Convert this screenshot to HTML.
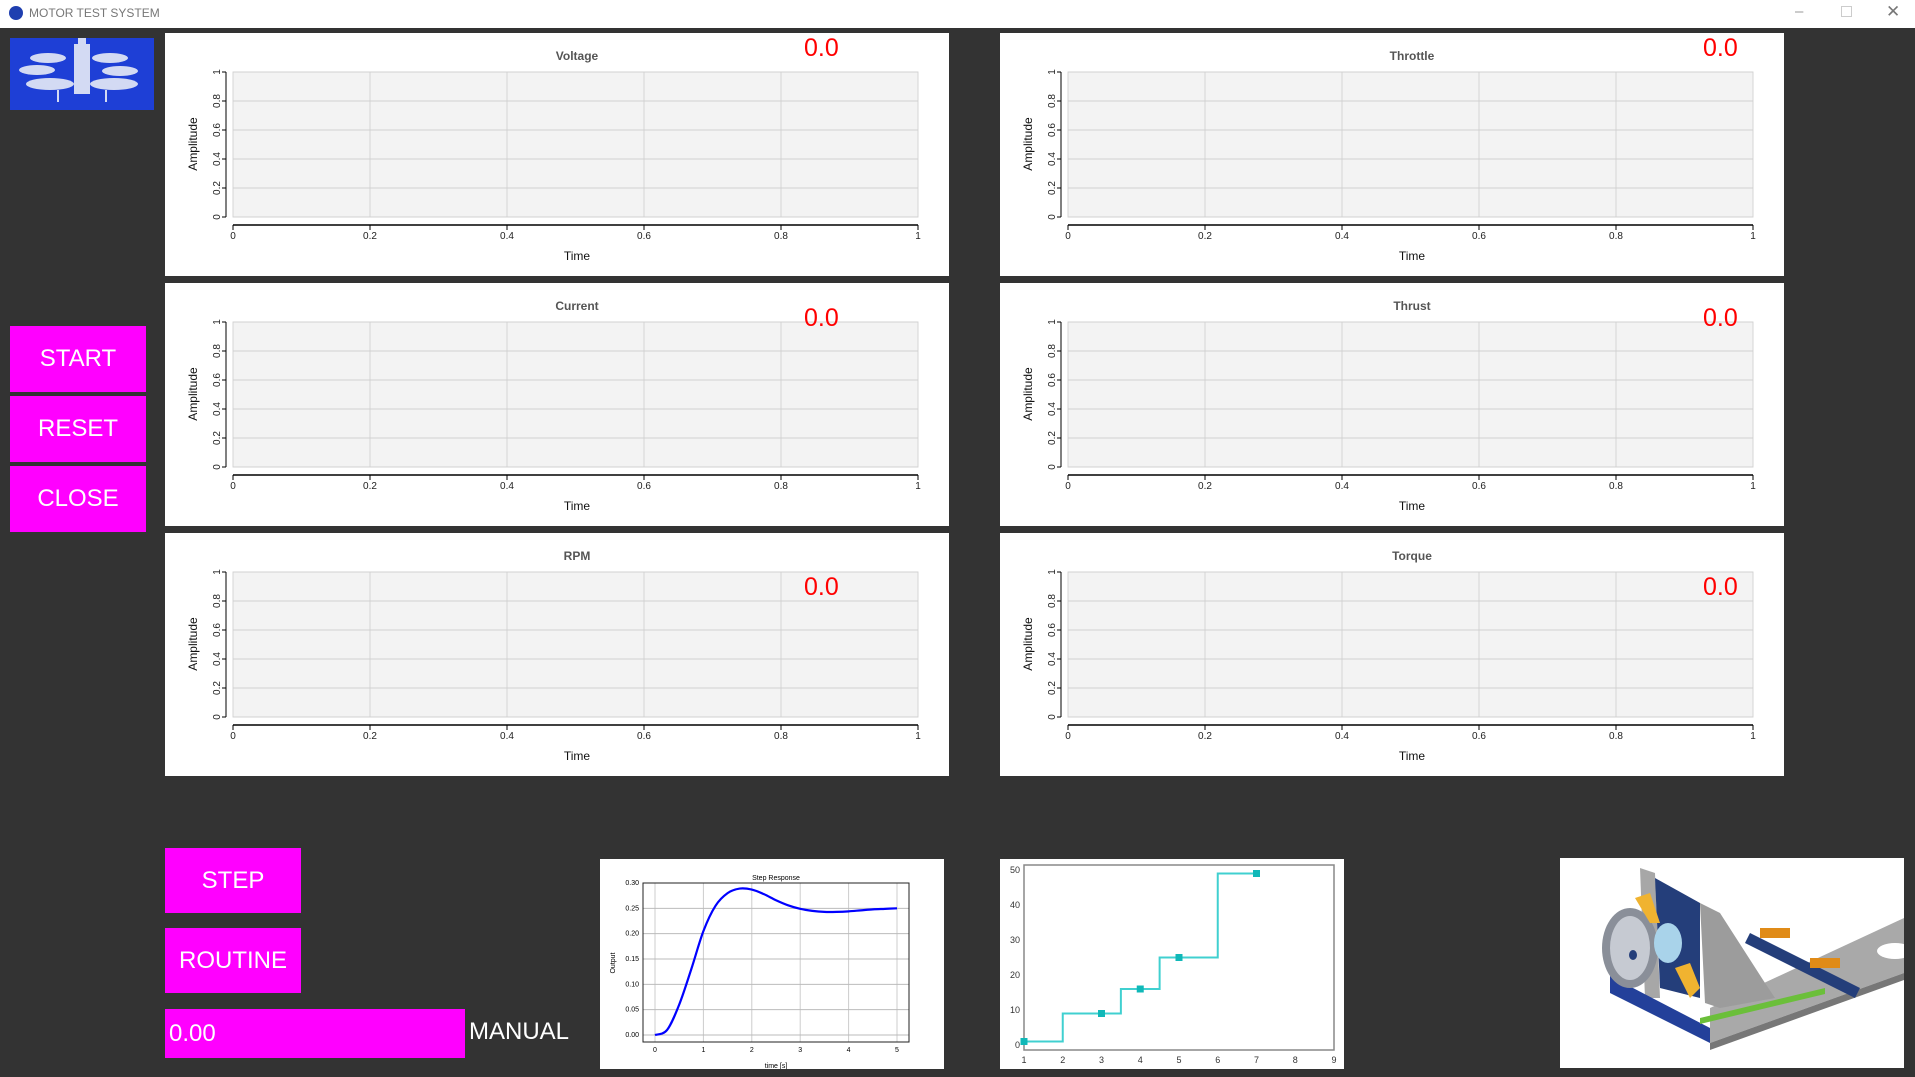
<!DOCTYPE html>
<html><head><meta charset="utf-8">
<style>
*{margin:0;padding:0;box-sizing:border-box}
body{width:1915px;height:1077px;background:#333333;position:relative;overflow:hidden;font-family:"Liberation Sans",sans-serif}
.abs{position:absolute}
.btn{position:absolute;background:#ff00ff;color:#fff;font-size:24px;display:flex;align-items:center;justify-content:center}
.panel{position:absolute;background:#fff}
.val{position:absolute;color:#ff0000;font-size:25px}
</style></head><body>
<div class="abs" style="left:0;top:0;width:1915px;height:28px;background:#fff">
  <div class="abs" style="left:9px;top:6px;width:14px;height:14px;border-radius:50%;background:#1f3fb0"></div>
  <div class="abs" style="left:29px;top:6px;font-size:12px;color:#777">MOTOR TEST SYSTEM</div>
  <div class="abs" style="left:1795px;top:3px;font-size:15px;color:#999">&#8211;</div>
  <div class="abs" style="left:1841px;top:6px;width:11px;height:11px;border:1px solid #ccc"></div>
  <div class="abs" style="left:1886px;top:2px;font-size:17px;color:#777">&#10005;</div>
</div>
<div class="abs" style="left:10px;top:38px;width:144px;height:72px;background:#1e3fd6">
<svg width="144" height="72" viewBox="0 0 144 72">
<g fill="#dde3f5" opacity="0.95">
<ellipse cx="38" cy="20" rx="18" ry="5"/><ellipse cx="100" cy="20" rx="18" ry="5"/>
<ellipse cx="27" cy="32" rx="18" ry="5"/><ellipse cx="110" cy="33" rx="18" ry="5"/>
<ellipse cx="40" cy="46" rx="24" ry="6"/><ellipse cx="104" cy="46" rx="24" ry="6"/>
<rect x="64" y="6" width="16" height="50"/><rect x="68" y="0" width="8" height="6"/>
<rect x="47" y="52" width="2" height="12"/><rect x="95" y="52" width="2" height="12"/>
</g></svg></div>

<div class="btn" style="left:10px;top:326px;width:136px;height:66px">START</div>
<div class="btn" style="left:10px;top:396px;width:136px;height:66px">RESET</div>
<div class="btn" style="left:10px;top:466px;width:136px;height:66px">CLOSE</div>

<div id="panels"></div>

<div class="btn" style="left:165px;top:848px;width:136px;height:65px">STEP</div>
<div class="btn" style="left:165px;top:928px;width:136px;height:65px">ROUTINE</div>
<div class="btn" style="left:165px;top:1009px;width:300px;height:49px;justify-content:flex-start;padding-left:4px">0.00</div>
<div class="abs" style="left:469px;top:1018px;color:#fff;font-size:24px">MANUAL</div>

<svg class="abs" style="left:600px;top:859px" width="344" height="210" id="sr"></svg>
<svg class="abs" style="left:1000px;top:859px" width="344" height="210" id="rt"></svg>

<svg class="abs" style="left:1560px;top:858px" width="344" height="210" viewBox="0 0 344 210">
<rect width="344" height="210" fill="#fff"/>
<polygon points="150,150 344,60 344,115 150,185" fill="#a9a9a9"/>
<polygon points="150,185 344,115 344,122 150,192" fill="#777"/>
<ellipse cx="335" cy="93" rx="18" ry="8" fill="#fff"/>
<polygon points="80,10 95,15 100,140 85,140" fill="#a7a7a7"/>
<polygon points="95,20 140,45 140,140 100,130" fill="#243e7a"/>
<polygon points="140,45 160,55 205,125 215,140 160,150 145,145" fill="#9c9c9c"/>
<polygon points="190,75 300,130 295,140 185,85" fill="#243e7a"/>
<rect x="200" y="70" width="30" height="10" fill="#e08b18"/>
<rect x="250" y="100" width="30" height="10" fill="#e08b18"/>
<polygon points="50,118 150,170 150,185 50,135" fill="#23409a"/>
<polygon points="140,160 265,130 265,136 140,166" fill="#6bbf3a"/>
<ellipse cx="70" cy="90" rx="28" ry="40" fill="#8a8f99"/>
<ellipse cx="70" cy="90" rx="20" ry="32" fill="#c6cad2"/>
<ellipse cx="73" cy="97" rx="4" ry="5" fill="#243e7a"/>
<ellipse cx="108" cy="85" rx="14" ry="20" fill="#a9d3ea"/>
<polygon points="75,40 90,35 100,65 90,65" fill="#f0b330"/>
<polygon points="115,110 130,105 140,130 130,140" fill="#f0b330"/>
</svg>

<script>
// ---- panel definitions ----
const panelTitles = ["Voltage","Throttle","Current","Thrust","RPM","Torque"];
const panelValues = ["0.0","0.0","0.0","0.0","0.0","0.0"];
const xTicks = [0,0.2,0.4,0.6,0.8,1];
const yTicks = [0,0.2,0.4,0.6,0.8,1];
const xTickLabels = ["0","0.2","0.4","0.6","0.8","1"];
const yTickLabels = ["0","0.2","0.4","0.6","0.8","1"];

// ---- step response data ----
const srTime = [0,0.25,0.5,0.75,1,1.25,1.5,1.75,2,2.25,2.5,2.75,3,3.25,3.5,3.75,4,4.25,4.5,4.75,5];
const srOutput = [0,0.01,0.06,0.13,0.205,0.255,0.28,0.289,0.287,0.278,0.266,0.256,0.249,0.245,0.243,0.243,0.244,0.246,0.248,0.249,0.25];
const srXTicks = [0,1,2,3,4,5];
const srYTicks = [0,0.05,0.10,0.15,0.20,0.25,0.30];
const srYTickLabels = ["0.00","0.05","0.10","0.15","0.20","0.25","0.30"];

// ---- routine step data ----
const rtStepX = [1,2,3.5,4.5,6,7];
const rtStepY = [1,9,16,25,49,49];
const rtMarkX = [1,3,4,5,7];
const rtMarkY = [1,9,16,25,49];
const rtXTicks = [1,2,3,4,5,6,7,8,9];
const rtYTicks = [0,10,20,30,40,50];

const NS="http://www.w3.org/2000/svg";
function el(tag,attrs,parent){const e=document.createElementNS(NS,tag);for(const k in attrs)e.setAttribute(k,attrs[k]);if(parent)parent.appendChild(e);return e;}

const container=document.getElementById('panels');
const pos=[[165,33],[1000,33],[165,283],[1000,283],[165,533],[1000,533]];
const valTop=[1,1,21,21,40,40];
const valLeft=[639,703,639,703,639,703];
panelTitles.forEach((t,i)=>{
  const p=document.createElement('div');
  p.className='panel';
  
  
  p.style.left=pos[i][0]+'px';p.style.top=pos[i][1]+'px';p.style.width='784px';p.style.height='243px';
  container.appendChild(p);
  const svg=el('svg',{width:784,height:243},p);
  
  
  const L=68,R=753,T=39,B=184;
  const sx=v=>L+(R-L)*v, sy=v=>B-(B-T)*v;
  el('rect',{x:L,y:T,width:R-L,height:B-T,fill:'#f3f3f3',stroke:'#d6d6d6'},svg);
  xTicks.forEach((v,j)=>{
    el('line',{x1:sx(v),x2:sx(v),y1:T,y2:B,stroke:'#d4d4d4'},svg);
    el('line',{x1:sx(v),x2:sx(v),y1:192,y2:197,stroke:'#000'},svg);
    const tx=el('text',{x:sx(v),y:206,'font-size':10,'text-anchor':'middle',fill:'#222'},svg);tx.textContent=xTickLabels[j];
  });
  el('line',{x1:L,x2:R,y1:192,y2:192,stroke:'#000','stroke-width':1.5},svg);
  el('line',{x1:61,x2:61,y1:T,y2:B,stroke:'#000'},svg);
  yTicks.forEach((v,j)=>{
    el('line',{x1:L,x2:R,y1:sy(v),y2:sy(v),stroke:'#d0d0d0'},svg);
    el('line',{x1:57,x2:61,y1:sy(v),y2:sy(v),stroke:'#000'},svg);
    const tx=el('text',{x:55,y:sy(v),'font-size':10,'text-anchor':'middle',fill:'#222',transform:`rotate(-90 55 ${sy(v)})`},svg);tx.textContent=yTickLabels[j];
  });
  const tt=el('text',{x:412,y:27,'font-size':12,'font-weight':'bold','text-anchor':'middle',fill:'#555'},svg);tt.textContent=t;
  const xl=el('text',{x:412,y:227,'font-size':12,'text-anchor':'middle',fill:'#111'},svg);xl.textContent='Time';
  const yl=el('text',{x:32,y:111,'font-size':12,'text-anchor':'middle',fill:'#111',transform:'rotate(-90 32 111)'},svg);yl.textContent='Amplitude';
  const v=document.createElement('div');v.className='val';
  
  
  v.style.left=valLeft[i]+'px';v.style.top=valTop[i]+'px';v.textContent=panelValues[i];
  p.appendChild(v);
});

// step response chart
(function(){
  const s=document.getElementById('sr');
  el('rect',{width:344,height:210,fill:'#fff'},s);
  const L=43,R=309,T=24,B=183,x0=55,x1=297,y0=176,y1=24;
  const sx=v=>x0+(x1-x0)*v/5, sy=v=>y0-(y0-y1)*v/0.3;
  srXTicks.forEach(v=>{el('line',{x1:sx(v),x2:sx(v),y1:T,y2:B,stroke:'#ccc'},s);
    const tx=el('text',{x:sx(v),y:193,'font-size':7,'text-anchor':'middle'},s);tx.textContent=v;});
  srYTicks.forEach((v,j)=>{el('line',{x1:L,x2:R,y1:sy(v),y2:sy(v),stroke:'#bbb'},s);
    const tx=el('text',{x:L-4,y:sy(v)+2,'font-size':7,'text-anchor':'end'},s);tx.textContent=srYTickLabels[j];});
  el('rect',{x:L,y:T,width:R-L,height:B-T,fill:'none',stroke:'#222'},s);
  const pts=srTime.map((t,i)=>[sx(t),sy(srOutput[i])]);
  let d='M'+pts[0][0]+','+pts[0][1];
  for(let i=1;i<pts.length;i++){const p0=pts[i-1],p1=pts[i],pm=pts[i-2]||p0,p2=pts[i+1]||p1;
    d+=` C${p0[0]+(p1[0]-pm[0])/6},${p0[1]+(p1[1]-pm[1])/6} ${p1[0]-(p2[0]-p0[0])/6},${p1[1]-(p2[1]-p0[1])/6} ${p1[0]},${p1[1]}`;}
  const ln=el('path',{d,fill:'none',stroke:'#0000ff','stroke-width':2.2},s);
  
  
  const t=el('text',{x:176,y:21,'font-size':7,'text-anchor':'middle'},s);t.textContent='Step Response';
  const xl=el('text',{x:176,y:209,'font-size':7,'text-anchor':'middle'},s);xl.textContent='time [s]';
  const yl=el('text',{x:15,y:104,'font-size':7,'text-anchor':'middle',transform:'rotate(-90 15 104)'},s);yl.textContent='Output';
})();

// routine chart
(function(){
  const s=document.getElementById('rt');
  el('rect',{width:344,height:210,fill:'#fff'},s);
  const L=24,R=334,T=6,B=191,yb=186,yt=11;
  const sx=v=>L+(R-L)*(v-1)/8, sy=v=>yb-(yb-yt)*v/50;
  el('rect',{x:L,y:T,width:R-L,height:B-T,fill:'none',stroke:'#888','stroke-width':1.5},s);
  rtXTicks.forEach(v=>{const tx=el('text',{x:sx(v),y:204,'font-size':9,'text-anchor':'middle',fill:'#333'},s);tx.textContent=v;});
  rtYTicks.forEach(v=>{const tx=el('text',{x:L-4,y:sy(v)+3,'font-size':9,'text-anchor':'end',fill:'#333'},s);tx.textContent=v;});
  let d='M'+sx(rtStepX[0])+','+sy(rtStepY[0]);
  for(let i=1;i<rtStepX.length;i++){d+=' H'+sx(rtStepX[i])+' V'+sy(rtStepY[i]);}
  const ln=el('path',{d,fill:'none',stroke:'#40d0d0','stroke-width':2},s);
  
  
  rtMarkX.forEach((x,i)=>{const m=el('rect',{x:sx(x)-3.5,y:sy(rtMarkY[i])-3.5,width:7,height:7,fill:'#10b8b8'},s);
    
    });
})();
</script>
</body></html>
